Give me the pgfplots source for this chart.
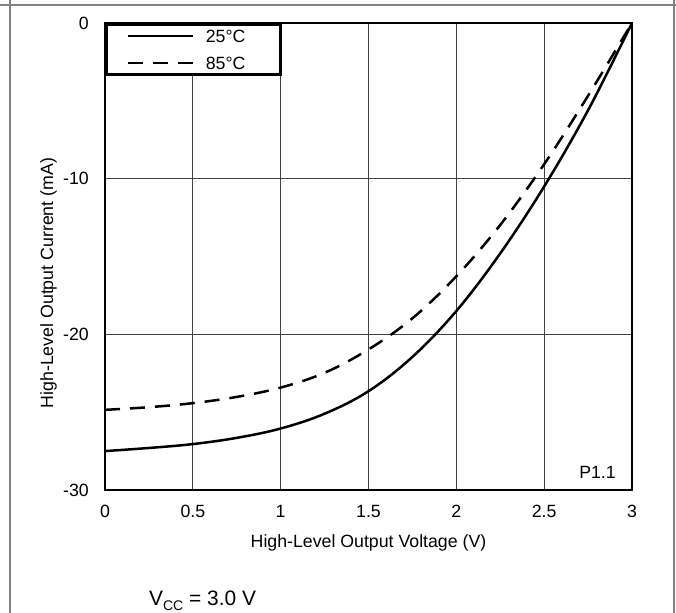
\documentclass[border=0pt]{standalone}
\usepackage{fontspec}
\setmainfont{Liberation Sans}
\usepackage{pgfplots}
\pgfplotsset{compat=1.18}

\newcommand{\lblfont}{\fontsize{17.8}{20}\selectfont}

\begin{document}
\begin{tikzpicture}
% cell frame
\draw[black!50, line width=2bp] (0bp,-5bp) -- (676bp,-5bp);
\draw[black!50, line width=2bp] (9.5bp,0bp) -- (9.5bp,-613bp);
\draw[black!50, line width=2bp] (674bp,0bp) -- (674bp,-613bp);

\begin{axis}[
  at={(105bp,-490bp)}, anchor=south west,
  scale only axis, width=527bp, height=467bp,
  xmin=0, xmax=3, ymin=-30, ymax=0,
  xtick={0,0.5,1,1.5,2,2.5,3},
  ytick={-30,-20,-10,0},
  axis line style={line width=2.6bp},
  grid=major, grid style={line width=1bp, black!75},
  major tick length=0pt,
  tick label style={font=\lblfont},
  /pgf/number format/assume math mode=true,
  yticklabel style={anchor=east, inner sep=0pt, xshift=-16bp},
  xticklabel style={anchor=north, inner sep=0pt, yshift=-15bp},
  xlabel={High-Level Output Voltage (V)},
  ylabel={High-Level Output Current (mA)},
  label style={font=\lblfont, inner sep=0pt},
  xlabel style={at={(axis description cs:0.5,0)}, anchor=north, yshift=-44bp},
  ylabel style={at={(axis description cs:-0.1233,0.443)}, anchor=north},
  legend style={at={(rel axis cs:0,1)}, anchor=north west,
    draw=black, line width=2.6bp, inner xsep=20bp, inner ysep=5bp,
    row sep=14bp, column sep=12bp,
    nodes={inner sep=0pt, text height=13bp, text depth=0pt, font=\lblfont}},
  legend cell align=left,
  legend image code/.code={\draw[#1, line width=2.5bp] (0bp,0bp) -- (65bp,0bp);},
]
\addplot[black, line width=2.5bp, smooth, tension=0.6] coordinates {
  (0,-27.5) (0.25,-27.3) (0.5,-27.05) (0.75,-26.65) (1.0,-26.05)
  (1.25,-25.1) (1.5,-23.65) (1.75,-21.45) (2.0,-18.5) (2.25,-14.8)
  (2.5,-10.5) (2.75,-5.6) (3.0,0)};
\addlegendentry{25°C\hspace*{15bp}}
\addplot[black, line width=2.5bp, dash pattern=on 15bp off 10bp, smooth, tension=0.6] coordinates {
  (0,-24.85) (0.25,-24.68) (0.5,-24.42) (0.75,-24.02) (1.0,-23.42)
  (1.25,-22.47) (1.5,-20.97) (1.75,-18.97) (2.0,-16.27) (2.25,-12.97)
  (2.5,-9.07) (2.75,-4.67) (3.0,0)};
\addlegendentry{85°C\hspace*{15bp}}
\node[anchor=base east, inner sep=0pt, font=\lblfont] at (rel axis cs:0.9696,0.0257) {P1.1};
\end{axis}

\node[anchor=base west, inner sep=0pt, font=\fontsize{21}{24}\selectfont] at (149bp,-605bp)
  {V\raisebox{-5bp}{\fontsize{14}{14}\selectfont CC} = 3.0 V};

\pgfresetboundingbox
\useasboundingbox (0bp,0bp) rectangle (676bp,-613bp);
\end{tikzpicture}
\end{document}
